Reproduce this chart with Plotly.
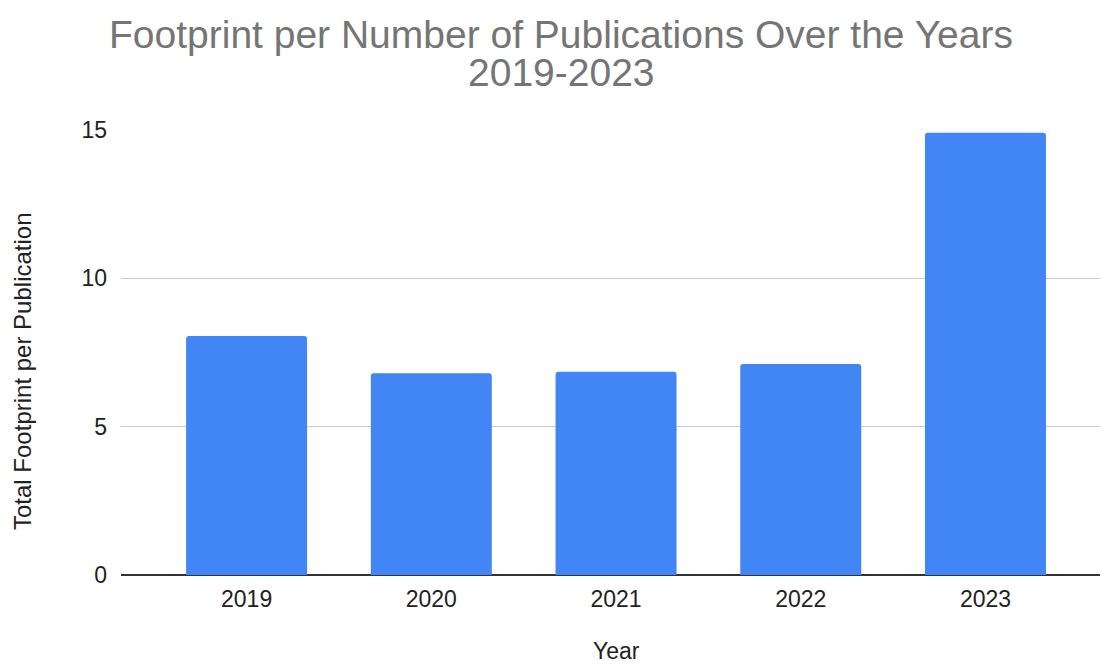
import plotly.graph_objects as go

years = ["2019", "2020", "2021", "2022", "2023"]
footprint_per_pub = [8.06, 6.80, 6.85, 7.11, 14.91]
y_ticks = [0, 5, 10, 15]
title_lines = ["Footprint per Number of Publications Over the Years", "2019-2023"]

FONT = "Liberation Sans, Arial, sans-serif"

# plot-area geometry in pixels
W, H = 1102, 666
L, R, T, B = 121, 2, 130, 91
plot_w = W - L - R
plot_h = H - T - B


def px_x(x):
    return (x - L) / plot_w


def px_y(y):
    return (H - B - y) / plot_h


fig = go.Figure(
    go.Bar(
        x=list(range(len(years))),
        y=footprint_per_pub,
        marker=dict(color="#4285F4", line=dict(width=0)),
        width=0.655,
        hoverinfo="x+y",
    )
)

annotations = [
    dict(
        text=title_lines[0],
        x=px_x(561), y=px_y(35), xref="paper", yref="paper",
        xanchor="center", yanchor="middle", showarrow=False,
        font=dict(family=FONT, size=39, color="#757575"),
    ),
    dict(
        text=title_lines[1],
        x=px_x(561), y=px_y(72), xref="paper", yref="paper",
        xanchor="center", yanchor="middle", showarrow=False,
        font=dict(family=FONT, size=39, color="#757575"),
    ),
    dict(
        text="Total Footprint per Publication",
        x=px_x(22), y=px_y(371), xref="paper", yref="paper",
        xanchor="center", yanchor="middle", showarrow=False, textangle=-90,
        font=dict(family=FONT, size=24, color="#222222"),
    ),
    dict(
        text="Year",
        x=px_x(616), y=px_y(651), xref="paper", yref="paper",
        xanchor="center", yanchor="middle", showarrow=False,
        font=dict(family=FONT, size=23, color="#222222"),
    ),
]

fig.update_layout(
    width=W,
    height=H,
    margin=dict(l=L, r=R, t=T, b=B),
    paper_bgcolor="white",
    plot_bgcolor="white",
    barcornerradius=3,
    showlegend=False,
    font=dict(family=FONT, color="#222222", size=23),
    xaxis=dict(
        tickmode="array",
        tickvals=list(range(len(years))),
        ticktext=years,
        range=[-0.68, 4.62],
        showgrid=False,
        zeroline=False,
        showline=False,
        ticks="",
        ticklabelstandoff=8,
        tickfont=dict(family=FONT, size=23, color="#222222"),
        fixedrange=True,
    ),
    yaxis=dict(
        range=[0, 15],
        tickvals=y_ticks,
        showgrid=True,
        gridcolor="#cccccc",
        gridwidth=1,
        zeroline=True,
        zerolinecolor="#333333",
        zerolinewidth=1.5,
        showline=False,
        ticks="",
        ticklabelstandoff=13,
        tickfont=dict(family=FONT, size=23, color="#222222"),
        fixedrange=True,
    ),
    annotations=annotations,
)

fig.write_html("out.html")
